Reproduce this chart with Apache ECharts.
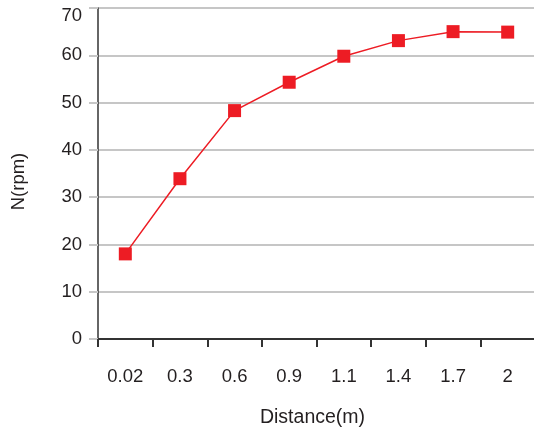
<!DOCTYPE html>
<html>
<head>
<meta charset="utf-8">
<script src="https://cdn.jsdelivr.net/npm/echarts@6/dist/echarts.min.js"></script>
<style>
html,body{margin:0;padding:0;background:#fff;}
#chart{width:534px;height:429px;}
</style>
</head>
<body>
<div id="chart"></div>
<script>
var categories = ['0.02', '0.3', '0.6', '0.9', '1.1', '1.4', '1.7', '2'];
var speedValues = [18, 33.9, 48.3, 54.3, 59.8, 63.1, 65, 64.9];
var yTicks = { min: 0, max: 70, interval: 10 };

var font = 'Liberation Sans, Arial, Helvetica, sans-serif';
var textColor = '#231f20';
var red = '#ed1c24';

var chart = echarts.init(document.getElementById('chart'));
chart.setOption({
  animation: false,
  backgroundColor: '#ffffff',
  grid: { left: 98, top: 8, right: -1, bottom: 90, containLabel: false, outerBoundsMode: 'none' },
  xAxis: {
    type: 'category',
    data: categories,
    boundaryGap: true,
    name: 'Distance(m)',
    nameLocation: 'middle',
    nameGap: 69,
    nameTextStyle: { color: textColor, fontSize: 19.5, fontFamily: font, padding: [0, 8, 0, 0] },
    axisLine: { show: true, lineStyle: { color: '#333333', width: 2 } },
    axisTick: { show: true, alignWithLabel: false, length: 8, inside: false, lineStyle: { color: '#333333', width: 2 } },
    axisLabel: { color: textColor, fontSize: 18.5, fontFamily: font, margin: 28 },
    splitLine: { show: false }
  },
  yAxis: {
    type: 'value',
    min: yTicks.min,
    max: yTicks.max,
    interval: yTicks.interval,
    name: 'N(rpm)',
    nameLocation: 'middle',
    nameGap: 70,
    nameRotate: 90,
    nameTextStyle: { color: textColor, fontSize: 18.5, fontFamily: font, padding: [0, 16, 0, 0] },
    axisLine: { show: true, lineStyle: { color: '#333333', width: 1.5 } },
    axisTick: { show: true, length: 9, lineStyle: { color: '#c6c6c6', width: 2 } },
    axisLabel: {
      color: textColor, fontSize: 18.5, fontFamily: font, margin: 16,
      formatter: function (v) { return v === yTicks.max ? '{top|' + v + '}' : String(v); },
      rich: { top: { color: textColor, fontSize: 18.5, fontFamily: font, padding: [16, 0, 0, 0] } }
    },
    splitLine: { show: true, lineStyle: { color: '#c6c6c6', width: 2 } }
  },
  series: [{
    type: 'line',
    data: speedValues,
    symbol: 'rect',
    symbolSize: 13,
    itemStyle: { color: red },
    lineStyle: { color: red, width: 1.5 },
    z: 5
  }]
});
</script>
</body>
</html>
